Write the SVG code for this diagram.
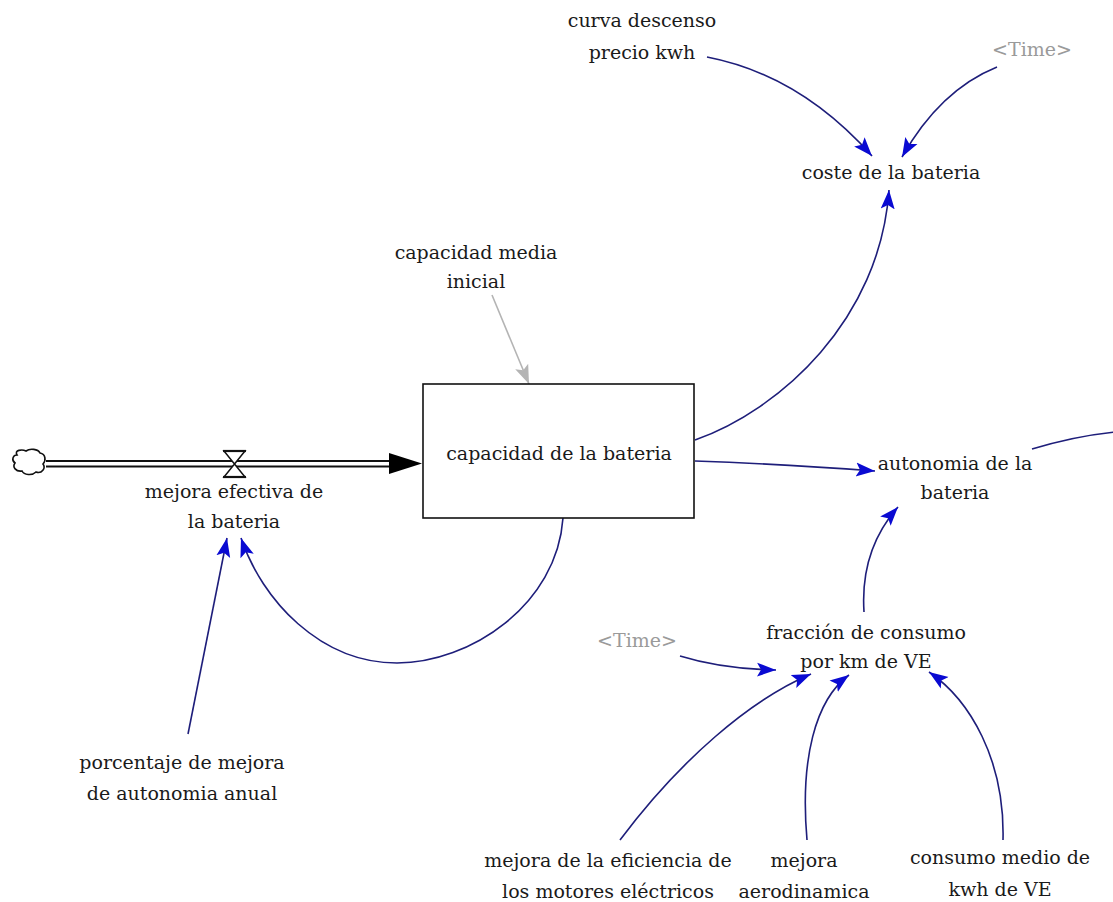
<svg xmlns="http://www.w3.org/2000/svg" width="1113" height="902" viewBox="0 0 1113 902">
<defs>
<style>
text{font-size:19px;fill:#1a1a1a;text-anchor:middle}
text.shadow{fill:#9a9a9a}
.link{fill:none;stroke:#1e1e7a;stroke-width:1.6}
.glink{fill:none;stroke:#b4b4b4;stroke-width:1.6}
.pipe{fill:none;stroke:#111;stroke-width:1.8}
</style>
<marker id="ah" markerUnits="userSpaceOnUse" markerWidth="20" markerHeight="16" viewBox="0 0 20 16" refX="19" refY="8" orient="auto">
<path d="M0,1 L19,8 L0,15 L4,8 z" fill="#0a0ad2"/>
</marker>
<marker id="gah" markerUnits="userSpaceOnUse" markerWidth="20" markerHeight="16" viewBox="0 0 20 16" refX="19" refY="8" orient="auto">
<path d="M0,1 L19,8 L0,15 L4,8 z" fill="#b4b4b4"/>
</marker>
</defs>
<rect width="1113" height="902" fill="#ffffff"/>

<g id="connectors">
<path class="link" d="M707,57 Q800,75 872,156" marker-end="url(#ah)"/>
<path class="link" d="M997,67 Q940,90 902,157" marker-end="url(#ah)"/>
<path class="link" d="M695,440 C780,410 880,320 889,190" marker-end="url(#ah)"/>
<path class="link" d="M695,461 Q780,464 875,471" marker-end="url(#ah)"/>
<path class="link" d="M1032,449 Q1075,436 1115,432"/>
<path class="link" d="M563,518 C557,605 470,663 397,663 C320,663 262,600 241,538" marker-end="url(#ah)"/>
<path class="link" d="M188,734 L227,538" marker-end="url(#ah)"/>
<path class="link" d="M864,612 Q860,550 898,507" marker-end="url(#ah)"/>
<path class="link" d="M680,656 Q722,669 776,670" marker-end="url(#ah)"/>
<path class="link" d="M620,840 C680,760 750,700 811,674" marker-end="url(#ah)"/>
<path class="link" d="M807,840 C800,760 815,700 849,675" marker-end="url(#ah)"/>
<path class="link" d="M1003,840 C1005,760 970,700 929,672" marker-end="url(#ah)"/>
<path class="glink" d="M492,295 L529,384" marker-end="url(#gah)"/>
</g>

<g font-family="DejaVu Serif, serif">
<g id="flow-mejora-efectiva">
<path d="M17,455 C14,450 22,449 26,451 C30,448 38,449 40,453 C46,454 46,461 43,464 C46,468 42,474 36,472 C32,476 24,475 22,471 C16,472 12,467 15,463 C11,460 13,455 17,455 z" fill="#fff" stroke="#111" stroke-width="1.6"/>
<line class="pipe" x1="46" y1="461" x2="392" y2="461"/>
<line class="pipe" x1="46" y1="466.5" x2="392" y2="466.5"/>
<path d="M389,453 L422,463.5 L389,474 z" fill="#000"/>
<path d="M224,451 L245,451 L234.5,464 L245,477 L224,477 L234.5,464 z" fill="#fff" stroke="#111" stroke-width="1.5"/>
<line x1="223" y1="451" x2="246" y2="451" stroke="#111" stroke-width="2.2"/>
<line x1="223" y1="477" x2="246" y2="477" stroke="#111" stroke-width="2.2"/>
<text x="234" y="498">mejora efectiva de</text>
<text x="234" y="528">la bateria</text>
</g>

<g id="stock-capacidad">
<rect x="423" y="384" width="271" height="134" fill="#fff" stroke="#111" stroke-width="1.6"/>
<text x="559" y="460">capacidad de la bateria</text>
</g>

<g id="curva-descenso">
<text x="642" y="27">curva descenso</text>
<text x="642" y="59">precio kwh</text>
</g>
<g id="time-1"><text class="shadow" x="1032" y="56">&lt;Time&gt;</text></g>
<g id="coste-bateria"><text x="891" y="179">coste de la bateria</text></g>
<g id="capacidad-media">
<text x="476" y="259">capacidad media</text>
<text x="476" y="288">inicial</text>
</g>
<g id="autonomia">
<text x="955" y="470">autonomia de la</text>
<text x="955" y="499">bateria</text>
</g>
<g id="time-2"><text class="shadow" x="637" y="647">&lt;Time&gt;</text></g>
<g id="fraccion-consumo">
<text x="866" y="639">fracción de consumo</text>
<text x="866" y="668">por km de VE</text>
</g>
<g id="porcentaje-mejora">
<text x="182" y="769">porcentaje de mejora</text>
<text x="182" y="800">de autonomia anual</text>
</g>
<g id="mejora-eficiencia">
<text x="608" y="867">mejora de la eficiencia de</text>
<text x="608" y="898">los motores eléctricos</text>
</g>
<g id="mejora-aerodinamica">
<text x="804" y="867">mejora</text>
<text x="804" y="898">aerodinamica</text>
</g>
<g id="consumo-medio">
<text x="1000" y="864">consumo medio de</text>
<text x="1000" y="896">kwh de VE</text>
</g>
</g>
</svg>
